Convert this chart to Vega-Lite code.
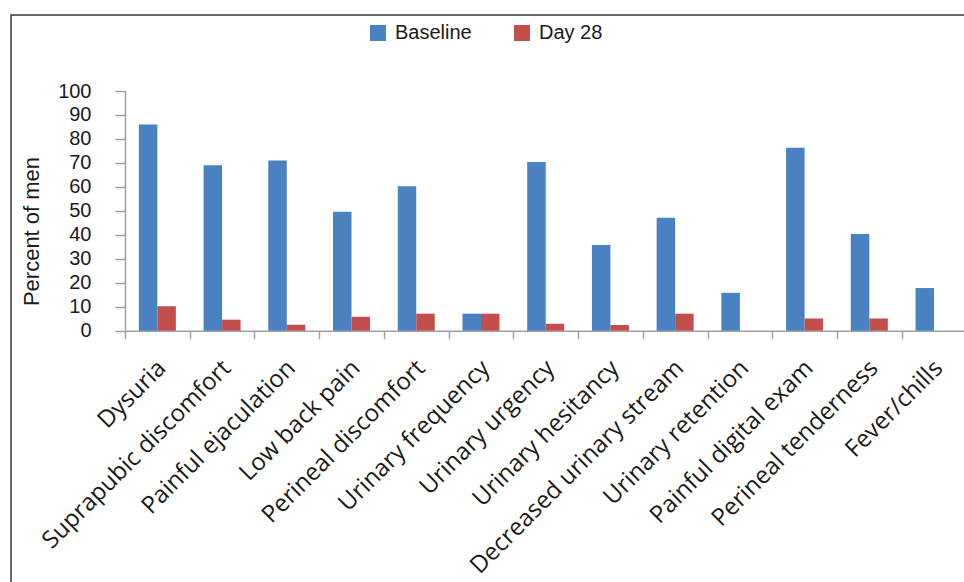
{
  "$schema": "https://vega.github.io/schema/vega-lite/v6.json",
  "width": 960,
  "height": 575,
  "autosize": {"type": "none"},
  "padding": {"left": 11, "top": 15, "right": 0, "bottom": 0},
  "background": "white",
  "config": {"view": {"stroke": "#3a3a3a", "strokeWidth": 1.5}},
  "data": {
    "values": [
      {"symptom": "Dysuria", "series": "Baseline", "value": 86},
      {"symptom": "Dysuria", "series": "Day 28", "value": 10.2},
      {"symptom": "Suprapubic discomfort", "series": "Baseline", "value": 69},
      {"symptom": "Suprapubic discomfort", "series": "Day 28", "value": 4.6},
      {"symptom": "Painful ejaculation", "series": "Baseline", "value": 71},
      {"symptom": "Painful ejaculation", "series": "Day 28", "value": 2.5},
      {"symptom": "Low back pain", "series": "Baseline", "value": 49.6},
      {"symptom": "Low back pain", "series": "Day 28", "value": 5.8},
      {"symptom": "Perineal discomfort", "series": "Baseline", "value": 60.3},
      {"symptom": "Perineal discomfort", "series": "Day 28", "value": 7.1},
      {"symptom": "Urinary frequency", "series": "Baseline", "value": 7.1},
      {"symptom": "Urinary frequency", "series": "Day 28", "value": 7.1},
      {"symptom": "Urinary urgency", "series": "Baseline", "value": 70.4},
      {"symptom": "Urinary urgency", "series": "Day 28", "value": 2.9},
      {"symptom": "Urinary hesitancy", "series": "Baseline", "value": 35.8},
      {"symptom": "Urinary hesitancy", "series": "Day 28", "value": 2.4},
      {"symptom": "Decreased urinary stream", "series": "Baseline", "value": 47.1},
      {"symptom": "Decreased urinary stream", "series": "Day 28", "value": 7.1},
      {"symptom": "Urinary retention", "series": "Baseline", "value": 15.8},
      {"symptom": "Urinary retention", "series": "Day 28", "value": 0},
      {"symptom": "Painful digital exam", "series": "Baseline", "value": 76.3},
      {"symptom": "Painful digital exam", "series": "Day 28", "value": 5.1},
      {"symptom": "Perineal tenderness", "series": "Baseline", "value": 40.3},
      {"symptom": "Perineal tenderness", "series": "Day 28", "value": 5.1},
      {"symptom": "Fever/chills", "series": "Baseline", "value": 17.8},
      {"symptom": "Fever/chills", "series": "Day 28", "value": 0}
    ]
  },
  "mark": {"type": "bar"},
  "encoding": {
    "x": {
      "field": "symptom",
      "type": "nominal",
      "sort": null,
      "scale": {"range": [114, 955.4], "paddingInner": 0, "paddingOuter": 0},
      "axis": {
        "title": null,
        "offset": -259.3,
        "labelAngle": -45,
        "labelAlign": "right",
        "labelBaseline": "top",
        "labelPadding": 17,
        "labelOffset": -4,
        "labelFont": "Open Sans",
        "labelFontSize": 24,
        "labelColor": "#1a1a1a",
        "labelLimit": 500,
        "labelOverlap": false,
        "tickBand": "extent",
        "tickSize": 8,
        "tickColor": "#a0a0a0",
        "tickWidth": 1.5,
        "domainColor": "#a0a0a0",
        "domainWidth": 1.5
      }
    },
    "xOffset": {
      "field": "series",
      "type": "nominal",
      "sort": ["Baseline", "Day 28"],
      "scale": {"paddingInner": 0, "paddingOuter": 0.749}
    },
    "y": {
      "field": "value",
      "type": "quantitative",
      "scale": {"domain": [0, 100], "range": [315.7, 76], "nice": false, "zero": true},
      "axis": {
        "title": "Percent of men",
        "offset": -114,
        "values": [0, 10, 20, 30, 40, 50, 60, 70, 80, 90, 100],
        "grid": false,
        "tickSize": 10,
        "tickColor": "#a0a0a0",
        "tickWidth": 1.5,
        "domainColor": "#a0a0a0",
        "domainWidth": 1.5,
        "labelPadding": 24,
        "labelFont": "Liberation Sans",
        "labelFontSize": 20,
        "labelColor": "#1a1a1a",
        "titleFont": "Liberation Sans",
        "titleFontSize": 22,
        "titleFontWeight": "normal",
        "titleColor": "#1a1a1a",
        "titlePadding": 14,
        "titleY": 216
      }
    },
    "color": {
      "field": "series",
      "type": "nominal",
      "scale": {"domain": ["Baseline", "Day 28"], "range": ["#4a81c0", "#c24f4c"]},
      "legend": {
        "title": null,
        "orient": "none",
        "direction": "horizontal",
        "legendX": 357,
        "legendY": 8,
        "padding": 0,
        "symbolType": "square",
        "symbolSize": 256,
        "symbolStrokeWidth": 0,
        "labelFont": "Liberation Sans",
        "labelFontSize": 20,
        "labelColor": "#1a1a1a",
        "labelOffset": 7,
        "columnPadding": 40
      }
    }
  }
}
